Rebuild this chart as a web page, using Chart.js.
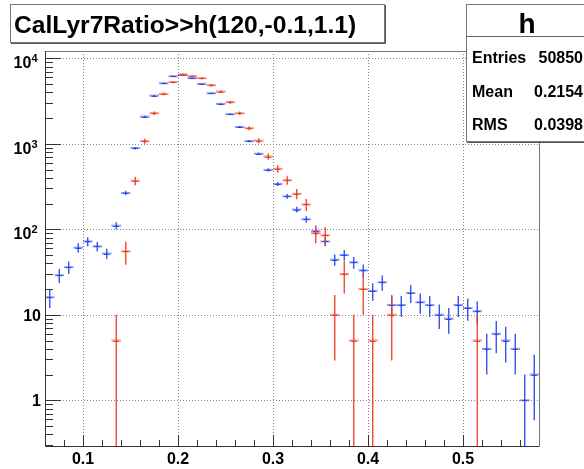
<!DOCTYPE html>
<html>
<head>
<meta charset="utf-8">
<script src="https://cdn.jsdelivr.net/npm/chart.js@4.4.1/dist/chart.umd.min.js"></script>
<style>
  body { margin: 0; background: #fff; width: 584px; height: 469px; overflow: hidden; position: relative;
         font-family: "Liberation Sans", Arial, sans-serif; font-weight: bold; color: #000; }
  #plot { position: absolute; left: 0; top: 0; }
  .box { position: absolute; background: #fff; border: 1px solid #777; box-sizing: border-box;
         box-shadow: 1px 1px 0 #555; }
  .txt { position: absolute; white-space: nowrap; }
</style>
</head>
<body>
<canvas id="plot" width="584" height="469"></canvas>

<div class="box" style="left:10px; top:4px; width:375px; height:39px;"></div>
<div class="txt" style="left:14px; top:12px; font-size:24.6px; line-height:25px;">CalLyr7Ratio&gt;&gt;h(120,-0.1,1.1)</div>

<div class="box" style="left:466px; top:4px; width:130px; height:138px;"></div>
<div style="position:absolute; left:466px; top:36px; width:130px; height:1px; background:#666;"></div>
<div class="txt" style="left:466px; width:122px; text-align:center; top:10px; font-size:28px; line-height:28px;">h</div>
<div class="txt" style="left:472px; top:50px; font-size:16px; line-height:16px;">Entries</div>
<div class="txt" style="right:1px; top:50px; font-size:16px; line-height:16px;">50850</div>
<div class="txt" style="left:472px; top:84px; font-size:16px; line-height:16px;">Mean</div>
<div class="txt" style="right:1px; top:84px; font-size:16px; line-height:16px;">0.2154</div>
<div class="txt" style="left:472px; top:117px; font-size:16px; line-height:16px;">RMS</div>
<div class="txt" style="right:1px; top:117px; font-size:16px; line-height:16px;">0.0398</div>

<script>
// histogram h(120,-0.1,1.1): only the visible bins 0.06 .. 0.58
const binWidth = 0.01;
const binCenters = [0.065, 0.075, 0.085, 0.095, 0.105, 0.115, 0.125, 0.135, 0.145, 0.155,
                    0.165, 0.175, 0.185, 0.195, 0.205, 0.215, 0.225, 0.235, 0.245, 0.255,
                    0.265, 0.275, 0.285, 0.295, 0.305, 0.315, 0.325, 0.335, 0.345, 0.355,
                    0.365, 0.375, 0.385, 0.395, 0.405, 0.415, 0.425, 0.435, 0.445, 0.455,
                    0.465, 0.475, 0.485, 0.495, 0.505, 0.515, 0.525, 0.535, 0.545, 0.555,
                    0.565, 0.575];
const blueCounts = [16, 29, 36, 61, 72, 63, 52, 110, 266, 890,
                    2080, 3660, 5100, 6170, 6400, 5850, 5020, 3900, 2930, 2220,
                    1570, 1075, 765, 495, 339, 243, 170, 131, 95, 72,
                    44, 50, 41, 33, 19, 24, 13, 13, 18, 14,
                    13, 10, 9, 13, 12, 11, 4, 6, 5, 4,
                    1, 2];
const redCounts = [0, 0, 0, 0, 0, 0, 0, 5, 55, 370,
                   1075, 2280, 3830, 5280, 6450, 6170, 5850, 4840, 4080, 3070,
                   2280, 1520, 1090, 710, 510, 375, 260, 195, 90, 85,
                   10, 30, 5, 20, 5, 0, 10, 0, 0, 0,
                   0, 0, 0, 0, 0, 5, 0, 0, 0, 0,
                   0, 0];
const redWeight = 5;   // red entries carry weight 5, error = sqrt(w * content)

const xMin = 0.06, xMax = 0.58;
const yMin = 0.292, yMax = 12170;
const xMajorTicks = [0.1, 0.2, 0.3, 0.4, 0.5];
const xMinorTicks = [0.08, 0.12, 0.14, 0.16, 0.18, 0.22, 0.24, 0.26, 0.28, 0.32, 0.34, 0.36,
                     0.38, 0.42, 0.44, 0.46, 0.48, 0.52, 0.54, 0.56];
const xTickLabels = ["0.1", "0.2", "0.3", "0.4", "0.5"];
const yDecades = [1, 10, 100, 1000, 10000];
const yTickLabels = [["1", ""], ["10", ""], ["10", "2"], ["10", "3"], ["10", "4"]];

const blueColor = "rgb(40, 70, 235)";
const redColor = "rgb(240, 60, 35)";

function makePoints(counts, weight) {
    const pts = [];
    counts.forEach((v, i) => {
        if (v > 0) pts.push({ x: binCenters[i], y: v, err: Math.sqrt(weight * v) });
    });
    return pts;
}

// ROOT-like frame, grid, inside ticks and error-bar crosses
const rootStyle = {
    id: "rootStyle",
    beforeDatasetsDraw(chart) {
        const { ctx, chartArea: a, scales: { x, y } } = chart;
        ctx.save();
        ctx.strokeStyle = "#888";
        ctx.lineWidth = 1;
        ctx.setLineDash([1, 2]);
        ctx.beginPath();
        xMajorTicks.forEach(v => {
            const px = Math.round(x.getPixelForValue(v)) + 0.5;
            ctx.moveTo(px, a.top); ctx.lineTo(px, a.bottom);
        });
        yDecades.forEach(v => {
            const py = Math.round(y.getPixelForValue(v)) + 0.5;
            ctx.moveTo(a.left, py); ctx.lineTo(a.right, py);
        });
        ctx.stroke();
        ctx.restore();
    },
    afterDatasetsDraw(chart) {
        const { ctx, chartArea: a, scales: { x, y } } = chart;
        ctx.save();
        ctx.beginPath();
        ctx.rect(a.left, a.top, a.right - a.left, a.bottom - a.top);
        ctx.clip();
        chart.data.datasets.forEach(ds => {
            ds.data.forEach(p => {
                const x0 = x.getPixelForValue(p.x - binWidth / 2);
                const x1 = x.getPixelForValue(p.x + binWidth / 2);
                const xc = x.getPixelForValue(p.x);
                const yc = y.getPixelForValue(p.y);
                const lo = p.y - p.err;
                const yLo = lo > yMin ? y.getPixelForValue(lo) : a.bottom;
                const yHi = y.getPixelForValue(p.y + p.err);
                ctx.strokeStyle = ds.borderColor;
                // soft bin-width bar
                ctx.globalAlpha = 0.55;
                ctx.lineWidth = 2;
                ctx.beginPath();
                ctx.moveTo(x0, yc); ctx.lineTo(x1, yc);
                ctx.stroke();
                // error bar and sharp centre of the bar
                ctx.globalAlpha = 1;
                ctx.lineWidth = 1.3;
                ctx.beginPath();
                ctx.moveTo(xc, yLo); ctx.lineTo(xc, yHi);
                ctx.stroke();
                ctx.lineWidth = 1;
                ctx.beginPath();
                ctx.moveTo(x0 + 2, Math.round(yc) + 0.5); ctx.lineTo(x1 - 2, Math.round(yc) + 0.5);
                ctx.stroke();
            });
        });
        ctx.restore();
    },
    afterDraw(chart) {
        const { ctx, chartArea: a, scales: { x, y } } = chart;
        ctx.save();
        // frame
        ctx.lineWidth = 1;
        ctx.strokeStyle = "#777";
        ctx.beginPath();
        ctx.moveTo(a.left, a.top + 0.5); ctx.lineTo(a.right + 0.5, a.top + 0.5);
        ctx.lineTo(a.right + 0.5, a.bottom);
        ctx.stroke();
        ctx.strokeStyle = "#333";
        ctx.beginPath();
        ctx.moveTo(a.left + 0.5, a.top); ctx.lineTo(a.left + 0.5, a.bottom + 0.5);
        ctx.lineTo(a.right + 0.5, a.bottom + 0.5);
        ctx.stroke();

        // y ticks: decades long, 2..9 short
        ctx.beginPath();
        yDecades.concat([0.1]).forEach(d => {
            for (let k = 1; k <= 9; k++) {
                const v = d * k;
                if (v < yMin || v > yMax) continue;
                const py = Math.round(y.getPixelForValue(v)) + 0.5;
                ctx.moveTo(a.left, py); ctx.lineTo(a.left + (k === 1 ? 16 : 8), py);
            }
        });
        // x ticks
        xMajorTicks.forEach(v => {
            const px = Math.round(x.getPixelForValue(v)) + 0.5;
            ctx.moveTo(px, a.bottom); ctx.lineTo(px, a.bottom - 11);
        });
        xMinorTicks.forEach(v => {
            const px = Math.round(x.getPixelForValue(v)) + 0.5;
            ctx.moveTo(px, a.bottom); ctx.lineTo(px, a.bottom - 6);
        });
        ctx.stroke();

        // labels
        ctx.fillStyle = "#000";
        ctx.font = "bold 16px 'Liberation Sans', Arial, sans-serif";
        ctx.textAlign = "center";
        ctx.textBaseline = "alphabetic";
        xMajorTicks.forEach((v, i) => {
            ctx.fillText(xTickLabels[i], x.getPixelForValue(v), a.bottom + 17.5);
        });
        ctx.textAlign = "right";
        yDecades.forEach((v, i) => {
            const py = y.getPixelForValue(v);
            const [base, sup] = yTickLabels[i];
            if (!sup) {
                ctx.font = "bold 16px 'Liberation Sans', Arial, sans-serif";
                ctx.fillText(base, 41, py + 6);
            } else {
                ctx.font = "bold 11px 'Liberation Sans', Arial, sans-serif";
                const sw = ctx.measureText(sup).width;
                ctx.fillText(sup, 37.5, py + 4);
                ctx.font = "bold 16px 'Liberation Sans', Arial, sans-serif";
                ctx.fillText(base, 37.5 - sw, py + 10);
            }
        });
        ctx.restore();
    }
};

new Chart(document.getElementById("plot"), {
    type: "scatter",
    data: {
        datasets: [
            { label: "blue", data: makePoints(blueCounts, 1), borderColor: blueColor, pointRadius: 0 },
            { label: "red", data: makePoints(redCounts, redWeight), borderColor: redColor, pointRadius: 0 }
        ]
    },
    options: {
        responsive: false,
        animation: false,
        devicePixelRatio: 1,
        layout: { padding: { left: 45, right: 45, top: 51, bottom: 23 } },
        scales: {
            x: { type: "linear", min: xMin, max: xMax, display: false },
            y: { type: "logarithmic", min: yMin, max: yMax, display: false }
        },
        plugins: { legend: { display: false }, tooltip: { enabled: false } }
    },
    plugins: [rootStyle]
});
</script>
</body>
</html>
